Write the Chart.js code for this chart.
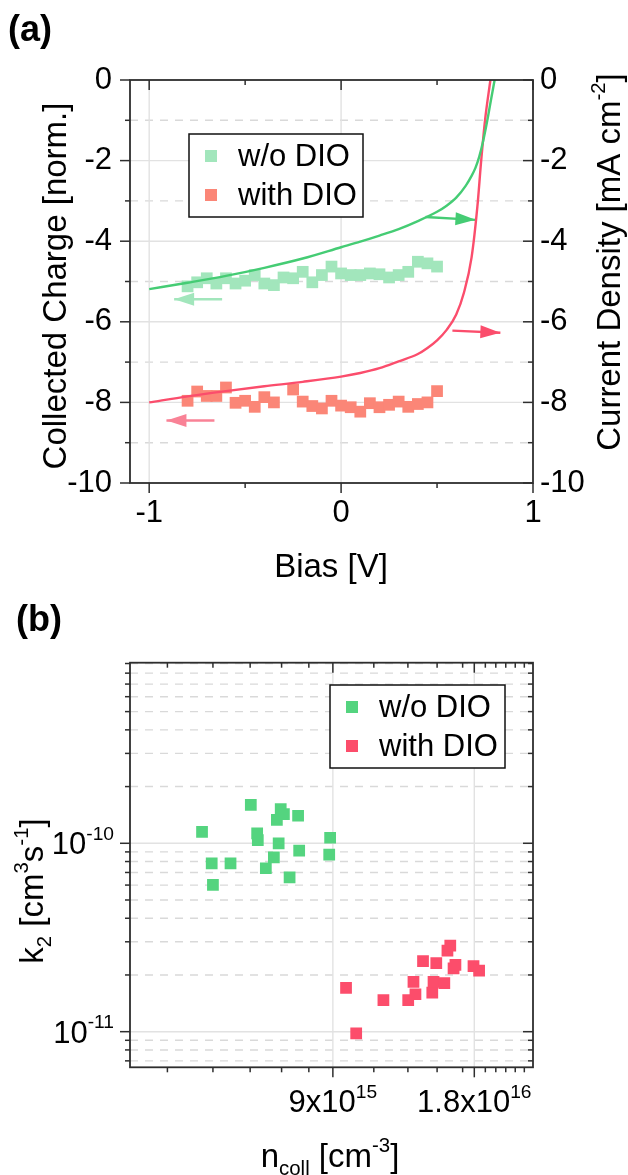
<!DOCTYPE html>
<html>
<head>
<meta charset="utf-8">
<script src="https://cdn.jsdelivr.net/npm/chart.js@4.4.1/dist/chart.umd.min.js"></script>
<style>
  html, body { margin: 0; padding: 0; background: #fff; }
  #wrap { position: relative; width: 628px; height: 1175px; overflow: hidden; }
  canvas { position: absolute; left: 0; }
  #chartA { top: 0; }
  #chartB { top: 590px; }
</style>
</head>
<body>
<div id="wrap">
  <canvas id="chartA" width="628" height="590"></canvas>
  <canvas id="chartB" width="628" height="585"></canvas>
</div>
<script>
// --- panel (a): collected charge (squares) and J-V curves (lines) ---
const biasPoints = [-0.8, -0.75, -0.7, -0.65, -0.6, -0.55, -0.5, -0.45, -0.4, -0.35, -0.3, -0.25, -0.2,
    -0.15, -0.1, -0.05, 0, 0.05, 0.1, 0.15, 0.2, 0.25, 0.3, 0.35, 0.4, 0.45, 0.5];
const chargeNoDio = [-5.12, -5.02, -4.92, -5.05, -4.92, -5.05, -4.98, -4.84, -5.05, -5.09, -4.90, -4.92, -4.76,
    -5.02, -4.84, -4.63, -4.80, -4.84, -4.84, -4.80, -4.82, -4.90, -4.84, -4.76, -4.51, -4.55, -4.63];
const chargeDio = [-7.96, -7.73, -7.84, -7.84, -7.63, -8.01, -7.96, -8.11, -7.87, -8.00, null, -7.68, -7.98,
    -8.09, -8.15, -7.96, -8.08, -8.12, -8.23, -8.02, -8.12, -8.06, -7.98, -8.11, -8.04, -8.00, -7.72];

const biasJvNoDio = [-1, -0.8, -0.6, -0.4, -0.2, 0, 0.1, 0.2, 0.3, 0.4, 0.5, 0.55, 0.6, 0.65, 0.68, 0.7, 0.72, 0.74, 0.76, 0.78, 0.8];
const jNoDio = [-5.19, -5.03, -4.86, -4.66, -4.43, -4.15, -4.01, -3.86, -3.70, -3.50, -3.27, -3.12, -2.92, -2.62, -2.38, -2.18, -1.90, -1.52, -1.05, -0.52, 0];
const biasJvDio = [-1, -0.8, -0.6, -0.4, -0.2, 0, 0.1, 0.2, 0.3, 0.4, 0.45, 0.5, 0.55, 0.6, 0.64, 0.68, 0.71, 0.73, 0.75, 0.778];
const jDio = [-8.0, -7.85, -7.72, -7.60, -7.49, -7.36, -7.27, -7.15, -6.98, -6.80, -6.65, -6.46, -6.20, -5.82, -5.28, -4.40, -3.15, -2.00, -1.00, 0];

// arrows pointing to the axis each curve belongs to
const arrowX0 = [0.44, -0.62, 0.58, -0.66];
const arrowY0 = [-3.40, -5.44, -6.22, -8.45];
const arrowX1 = [0.70, -0.87, 0.83, -0.91];
const arrowY1 = [-3.47, -5.44, -6.27, -8.45];
const arrowAxis = ['y2', 'y', 'y2', 'y'];

const biasTicks = [-1, 0, 1];
const biasMinorTicks = [-0.5, 0.5];
const chargeTicks = [0, -2, -4, -6, -8, -10];
const chargeMinorTicks = [-1, -3, -5, -7, -9];

// --- panel (b): k2 vs collected carrier density ---
const nNoDio = [4.74e15, 4.97e15, 5.0e15, 5.45e15, 6.02e15, 6.21e15, 6.23e15, 6.48e15, 6.74e15, 6.84e15,
    6.90e15, 6.97e15, 7.08e15, 7.28e15, 7.59e15, 7.63e15, 8.84e15, 8.88e15];
const k2NoDio = [1.15e-10, 7.83e-11, 6.01e-11, 7.83e-11, 1.60e-10, 1.13e-10, 1.04e-10, 7.37e-11, 8.43e-11, 1.33e-10,
    1.0e-10, 1.52e-10, 1.43e-10, 6.6e-11, 1.40e-10, 9.13e-11, 8.70e-11, 1.07e-10];
const nDio = [9.6e15, 1.009e16, 1.153e16, 1.302e16, 1.336e16, 1.349e16, 1.40e16, 1.465e16, 1.474e16, 1.494e16,
    1.554e16, 1.578e16, 1.60e16, 1.626e16, 1.641e16, 1.793e16, 1.843e16];
const k2Dio = [1.71e-11, 9.8e-12, 1.47e-11, 1.47e-11, 1.84e-11, 1.58e-11, 2.37e-11, 1.61e-11, 1.84e-11, 2.31e-11,
    1.81e-11, 2.69e-11, 2.86e-11, 2.17e-11, 2.26e-11, 2.23e-11, 2.11e-11];

const nTicks = [9e15, 1.8e16];
const nTickLabels = [['9x10', '15'], ['1.8x10', '16']];
const nMinorTicks = [4e15, 5e15, 6e15, 7e15, 8e15, 1.1e16, 1.3e16, 1.5e16, 1.7e16, 1.9e16, 2.0e16, 2.1e16, 2.2e16, 2.3e16];
const k2Ticks = [1e-10, 1e-11];
const k2TickLabels = [['10', '-10'], ['10', '-11']];
const k2MinorTicks = [7e-12, 8e-12, 9e-12, 2e-11, 3e-11, 4e-11, 5e-11, 6e-11, 7e-11, 8e-11, 9e-11,
    2e-10, 3e-10, 4e-10, 5e-10, 6e-10, 7e-10, 8e-10, 9e-10];

// colours
const paleGreen = '#a2e6bc';
const salmon = '#fb8677';
const lineGreen = '#45cc74';
const lineRed = '#fb4d6c';
const pinkArrow = '#f98296';
const dotGreen = '#54d47f';
const dotRed = '#fc4d6b';
const arrowColor = [lineGreen, paleGreen, lineRed, pinkArrow];
const gridColor = '#e2e2e2';
const dashColor = '#d9d9d9';
const frameColor = '#2e2e2e';
const FONT = '"Liberation Sans", Arial, sans-serif';

// text with super/subscripts, parts = [text, 'n' | 'sup' | 'sub']
function drawRich(ctx, parts, x, y, size, align, rotate) {
    const segs = parts.map(([t, k]) => {
        const fs = k === 'n' ? size : size * 0.62;
        ctx.font = fs + 'px ' + FONT;
        return { t, k, fs, w: ctx.measureText(t).width };
    });
    const total = segs.reduce((s, g) => s + g.w, 0);
    ctx.save();
    ctx.translate(x, y);
    if (rotate) ctx.rotate(rotate);
    let cx = align === 'center' ? -total / 2 : align === 'right' ? -total : 0;
    ctx.textAlign = 'left';
    ctx.textBaseline = 'alphabetic';
    ctx.fillStyle = '#000';
    segs.forEach(g => {
        ctx.font = g.fs + 'px ' + FONT;
        const dy = g.k === 'sup' ? -size * 0.46 : g.k === 'sub' ? size * 0.24 : 0;
        ctx.fillText(g.t, cx, dy);
        cx += g.w;
    });
    ctx.restore();
}

function drawLegend(ctx, box, rows) {
    ctx.save();
    ctx.fillStyle = '#fff';
    ctx.fillRect(box.x, box.y, box.w, box.h);
    ctx.strokeStyle = '#111';
    ctx.lineWidth = 1.5;
    ctx.strokeRect(box.x, box.y, box.w, box.h);
    ctx.font = '31px ' + FONT;
    ctx.textBaseline = 'middle';
    ctx.textAlign = 'left';
    rows.forEach(r => {
        ctx.fillStyle = r.color;
        ctx.fillRect(r.mx - 6, r.my - 6, 12, 12);
        ctx.fillStyle = '#000';
        ctx.fillText(r.label, r.tx, r.my + 1);
    });
    ctx.restore();
}

// Origin-like frame: grid lines, dashed minor grid, tick marks in/out, box
function framePlugin(cfg) {
    return {
        id: 'originFrame',
        beforeDatasetsDraw(chart) {
            const { ctx, chartArea: a } = chart;
            const xs = chart.scales.x, ys = chart.scales.y;
            ctx.save();
            ctx.lineWidth = 1.4;
            ctx.strokeStyle = dashColor;
            ctx.setLineDash([8, 7]);
            cfg.yDashed.forEach(v => {
                const p = ys.getPixelForValue(v);
                ctx.beginPath(); ctx.moveTo(a.left, p); ctx.lineTo(a.right, p); ctx.stroke();
            });
            ctx.setLineDash([]);
            ctx.strokeStyle = gridColor;
            cfg.yGrid.forEach(v => {
                const p = ys.getPixelForValue(v);
                ctx.beginPath(); ctx.moveTo(a.left, p); ctx.lineTo(a.right, p); ctx.stroke();
            });
            cfg.xGrid.forEach(v => {
                const p = xs.getPixelForValue(v);
                ctx.beginPath(); ctx.moveTo(p, a.top); ctx.lineTo(p, a.bottom); ctx.stroke();
            });
            ctx.restore();
        },
        afterDatasetsDraw(chart) {
            const { ctx, chartArea: a } = chart;
            const xs = chart.scales.x, ys = chart.scales.y;
            ctx.save();
            // arrow heads on the arrow datasets
            chart.data.datasets.forEach((ds, i) => {
                if (!ds.arrow) return;
                const pts = chart.getDatasetMeta(i).data;
                const p0 = pts[0], p1 = pts[pts.length - 1];
                const ang = Math.atan2(p1.y - p0.y, p1.x - p0.x);
                ctx.save();
                ctx.translate(p1.x, p1.y);
                ctx.rotate(ang);
                ctx.fillStyle = ds.borderColor;
                ctx.beginPath();
                ctx.moveTo(0, 0); ctx.lineTo(-20, -6.5); ctx.lineTo(-20, 6.5); ctx.closePath();
                ctx.fill();
                ctx.restore();
            });
            // tick marks
            ctx.strokeStyle = frameColor;
            ctx.lineWidth = 1.5;
            const tick = (x0, y0, x1, y1) => { ctx.beginPath(); ctx.moveTo(x0, y0); ctx.lineTo(x1, y1); ctx.stroke(); };
            [[cfg.xTicks, 10], [cfg.xMinor, 5]].forEach(([vals, len]) => vals.forEach(v => {
                const p = xs.getPixelForValue(v);
                tick(p, a.bottom, p, a.bottom + len);
                tick(p, a.top, p, a.top + len);
            }));
            [[cfg.yTicks, 10], [cfg.yMinor, 5]].forEach(([vals, len]) => vals.forEach(v => {
                const p = ys.getPixelForValue(v);
                tick(a.left - len, p, a.left, p);
                tick(a.right - len, p, a.right, p);
            }));
            ctx.lineWidth = 1.8;
            ctx.strokeRect(a.left, a.top, a.right - a.left, a.bottom - a.top);
            ctx.restore();
        },
        afterDraw(chart) {
            cfg.decorate(chart);
        }
    };
}

const tickFont = { family: FONT, size: 31 };
const noGrid = { display: false, drawTicks: false };

// ---------- (a) ----------
new Chart(document.getElementById('chartA'), {
    type: 'scatter',
    data: {
        datasets: [
            {
                type: 'line', label: 'J-V w/o DIO', yAxisID: 'y2',
                data: biasJvNoDio.map((x, i) => ({ x, y: jNoDio[i] })),
                borderColor: lineGreen, borderWidth: 2.4, pointRadius: 0, cubicInterpolationMode: 'monotone'
            },
            {
                type: 'line', label: 'J-V with DIO', yAxisID: 'y2',
                data: biasJvDio.map((x, i) => ({ x, y: jDio[i] })),
                borderColor: lineRed, borderWidth: 2.4, pointRadius: 0, cubicInterpolationMode: 'monotone'
            },
            ...arrowX0.map((x0, i) => ({
                type: 'line', label: 'arrow', arrow: true, yAxisID: arrowAxis[i],
                data: [{ x: x0, y: arrowY0[i] }, { x: arrowX1[i], y: arrowY1[i] }],
                borderColor: arrowColor[i], borderWidth: 2.4, pointRadius: 0
            })),
            {
                label: 'w/o DIO', yAxisID: 'y',
                data: biasPoints.map((x, i) => ({ x, y: chargeNoDio[i] })),
                pointStyle: 'rect', pointRadius: 8.3, backgroundColor: paleGreen, borderWidth: 0
            },
            {
                label: 'with DIO', yAxisID: 'y',
                data: biasPoints.map((x, i) => ({ x, y: chargeDio[i] })),
                pointStyle: 'rect', pointRadius: 8.3, backgroundColor: salmon, borderWidth: 0
            }
        ]
    },
    options: {
        responsive: false,
        animation: false,
        layout: { padding: { top: 80, left: 0, right: 0, bottom: 0 } },
        plugins: { legend: { display: false }, tooltip: { enabled: false } },
        scales: {
            x: {
                type: 'linear', min: -1.1, max: 1,
                afterBuildTicks: s => { s.ticks = biasTicks.map(v => ({ value: v })); },
                ticks: { font: tickFont, color: '#000', padding: 12 },
                grid: noGrid, border: { display: false },
                afterFit: s => { s.height = 107; }
            },
            y: {
                position: 'left', min: -10, max: 0,
                afterBuildTicks: s => { s.ticks = chargeTicks.map(v => ({ value: v })); },
                ticks: { font: tickFont, color: '#000', padding: 18 },
                grid: noGrid, border: { display: false },
                afterFit: s => { s.width = 130; }
            },
            y2: {
                position: 'right', min: -10, max: 0,
                afterBuildTicks: s => { s.ticks = chargeTicks.map(v => ({ value: v })); },
                ticks: { font: tickFont, color: '#000', padding: 7 },
                grid: noGrid, border: { display: false },
                afterFit: s => { s.width = 95; }
            }
        }
    },
    plugins: [framePlugin({
        xGrid: [-1, 0], yGrid: [-2, -4, -6, -8], yDashed: chargeMinorTicks,
        xTicks: biasTicks, xMinor: biasMinorTicks, yTicks: chargeTicks, yMinor: chargeMinorTicks,
        decorate(chart) {
            const ctx = chart.ctx;
            ctx.save();
            ctx.font = 'bold 36px ' + FONT;
            ctx.fillStyle = '#000';
            ctx.textBaseline = 'alphabetic';
            ctx.fillText('(a)', 8, 41);
            ctx.restore();
            drawRich(ctx, [['Collected Charge [norm.]', 'n']], 66, 286, 33, 'center', -Math.PI / 2);
            drawRich(ctx, [['Current Density [mA cm', 'n'], ['-2', 'sup'], [']', 'n']], 620, 262, 33, 'center', -Math.PI / 2);
            drawRich(ctx, [['Bias [V]', 'n']], 331, 577, 33, 'center');
            const ds = chart.data.datasets;
            drawLegend(ctx, { x: 189, y: 134, w: 174, h: 83 }, [
                { label: ds[6].label, color: ds[6].backgroundColor, mx: 211, my: 156, tx: 238 },
                { label: ds[7].label, color: ds[7].backgroundColor, mx: 211, my: 195, tx: 238 }
            ]);
        }
    })]
});

// ---------- (b) ----------
new Chart(document.getElementById('chartB'), {
    type: 'scatter',
    data: {
        datasets: [
            {
                label: 'w/o DIO',
                data: nNoDio.map((x, i) => ({ x, y: k2NoDio[i] })),
                pointStyle: 'rect', pointRadius: 8.3, backgroundColor: dotGreen, borderWidth: 0
            },
            {
                label: 'with DIO',
                data: nDio.map((x, i) => ({ x, y: k2Dio[i] })),
                pointStyle: 'rect', pointRadius: 8.3, backgroundColor: dotRed, borderWidth: 0
            }
        ]
    },
    options: {
        responsive: false,
        animation: false,
        layout: { padding: { top: 72.7, left: 0, right: 95, bottom: 0 } },
        plugins: { legend: { display: false }, tooltip: { enabled: false } },
        scales: {
            x: {
                type: 'logarithmic', min: 3.33e15, max: 2.4e16,
                ticks: { display: false }, grid: noGrid, border: { display: false },
                afterFit: s => { s.height = 107.7; }
            },
            y: {
                type: 'logarithmic', min: 6.47e-12, max: 9.09e-10,
                ticks: { display: false }, grid: noGrid, border: { display: false },
                afterFit: s => { s.width = 130; }
            }
        }
    },
    plugins: [framePlugin({
        xGrid: nTicks, yGrid: k2Ticks, yDashed: k2MinorTicks,
        xTicks: nTicks, xMinor: nMinorTicks, yTicks: k2Ticks, yMinor: k2MinorTicks,
        decorate(chart) {
            const ctx = chart.ctx;
            const xs = chart.scales.x, ys = chart.scales.y;
            ctx.save();
            ctx.font = 'bold 36px ' + FONT;
            ctx.fillStyle = '#000';
            ctx.textBaseline = 'alphabetic';
            ctx.fillText('(b)', 16, 41);
            ctx.restore();
            k2Ticks.forEach((v, i) => {
                drawRich(ctx, [[k2TickLabels[i][0], 'n'], [k2TickLabels[i][1], 'sup']], 114, ys.getPixelForValue(v) + 11, 31, 'right');
            });
            nTicks.forEach((v, i) => {
                drawRich(ctx, [[nTickLabels[i][0], 'n'], [nTickLabels[i][1], 'sup']], xs.getPixelForValue(v), 522, 31, 'center');
            });
            drawRich(ctx, [['k', 'n'], ['2', 'sub'], [' [cm', 'n'], ['3', 'sup'], ['s', 'n'], ['-1', 'sup'], [']', 'n']],
                43, 301, 33, 'center', -Math.PI / 2);
            drawRich(ctx, [['n', 'n'], ['coll', 'sub'], [' [cm', 'n'], ['-3', 'sup'], [']', 'n']], 330, 577, 33, 'center');
            const ds = chart.data.datasets;
            drawLegend(ctx, { x: 330, y: 95, w: 175, h: 83 }, [
                { label: ds[0].label, color: ds[0].backgroundColor, mx: 352, my: 117, tx: 379 },
                { label: ds[1].label, color: ds[1].backgroundColor, mx: 352, my: 156, tx: 379 }
            ]);
        }
    })]
});
</script>
</body>
</html>
